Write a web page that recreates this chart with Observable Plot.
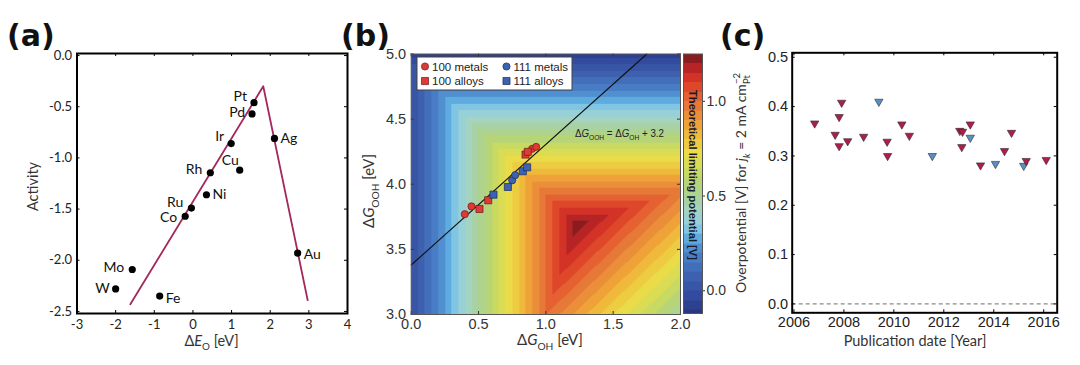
<!DOCTYPE html>
<html>
<head>
<meta charset="utf-8">
<script src="https://cdn.jsdelivr.net/npm/d3@7"></script>
<script src="https://cdn.jsdelivr.net/npm/@observablehq/plot@0.6"></script>
<style>
html, body { margin: 0; padding: 0; background: #fff; }
#root { position: relative; width: 1080px; height: 365px; overflow: hidden; }
#root > svg { position: absolute; }
</style>
</head>
<body>
<div id="root"></div>
<script>
// ---------------- Panel (a): volcano plot ----------------
const metals   = ["Pt", "Pd", "Ir", "Ag", "Cu", "Rh", "Ni", "Ru", "Co", "Mo", "W", "Fe", "Au"];
const deltaEO  = [1.58, 1.53, 0.99, 2.11, 1.21, 0.45, 0.35, -0.04, -0.20, -1.57, -2.00, -0.86, 2.71];
const activity = [-0.46, -0.57, -0.86, -0.81, -1.12, -1.145, -1.36, -1.49, -1.57, -2.09, -2.28, -2.35, -1.93];
const volcanoDeltaEO  = [-1.62, 1.82, 2.97];
const volcanoActivity = [-2.43, -0.30, -2.39];
const aXTicks = [-3, -2, -1, 0, 1, 2, 3, 4];
const aYTicks = [0, -0.5, -1.0, -1.5, -2.0, -2.5];

// ---------------- Panel (b): ORR activity map ----------------
const bSeriesNames = ["100 metals", "100 alloys", "111 metals", "111 alloys"];
const bSeries = ["100 metals", "100 metals", "100 metals", "100 metals",
                 "100 alloys", "100 alloys", "100 alloys", "100 alloys",
                 "111 metals", "111 metals",
                 "111 alloys", "111 alloys", "111 alloys", "111 alloys"];
const bGOH  = [0.398, 0.448, 0.898, 0.928, 0.507, 0.572, 0.849, 0.866, 0.750, 0.772, 0.611, 0.718, 0.829, 0.861];
const bGOOH = [3.770, 3.830, 4.272, 4.287, 3.810, 3.877, 4.228, 4.249, 4.030, 4.070, 3.920, 3.979, 4.100, 4.130];
const scalingLineGOH  = [0, 1.75];
const scalingLineGOOH = [3.38, 5.0];
const equilibriumPotential = 1.23;   // V, ORR
const bXTicks = [0, 0.5, 1.0, 1.5, 2.0];
const bYTicks = [3.0, 3.5, 4.0, 4.5, 5.0];
const colorbarTicks = [0, 0.5, 1.0];
const contourLevels = d3.range(-2, 25).map(i => +(i * 0.05).toFixed(2)); // -0.10 ... 1.20

// ---------------- Panel (c): overpotential vs date ----------------
const pubYear = [2006.83, 2007.65, 2007.81, 2007.91, 2007.81, 2008.15, 2008.79, 2009.40, 2009.73, 2009.75,
                 2010.32, 2010.62, 2011.54, 2012.64, 2012.75, 2012.72, 2013.06, 2013.06, 2013.47, 2014.07,
                 2014.43, 2014.71, 2015.20, 2015.30, 2016.10];
const overpotential = [0.366, 0.343, 0.379, 0.408, 0.320, 0.330, 0.339, 0.410, 0.329, 0.300,
                       0.364, 0.341, 0.300, 0.351, 0.349, 0.318, 0.364, 0.337, 0.281, 0.284,
                       0.310, 0.347, 0.280, 0.290, 0.292];
const cGroup = ["A", "A", "A", "A", "A", "A", "A", "B", "A", "A",
                "A", "A", "B", "A", "A", "A", "A", "B", "A", "B",
                "A", "A", "B", "A", "A"];
const cXTicks = [2006, 2008, 2010, 2012, 2014, 2016];
const cYTicks = [0, 0.1, 0.2, 0.3, 0.4, 0.5];

// ---------------- helpers ----------------
const root = document.getElementById("root");
function place(svg, left, top) {
  svg.style.left = left + "px";
  svg.style.top = top + "px";
  root.appendChild(svg);
  return svg;
}
function inwardTicks(xt, yt, xd, yd, pw, ph, len, stroke) {
  const lx = (xd[1] - xd[0]) * len / pw, ly = (yd[1] - yd[0]) * len / ph;
  return [
    Plot.ruleX(xt, {x: d => d, y1: yd[0], y2: yd[0] + ly, stroke}),
    Plot.ruleX(xt, {x: d => d, y1: yd[1] - ly, y2: yd[1], stroke}),
    Plot.ruleY(yt, {y: d => d, x1: xd[0], x2: xd[0] + lx, stroke}),
    Plot.ruleY(yt, {y: d => d, x1: xd[1] - lx, x2: xd[1], stroke})
  ];
}
function richText(svg, o, parts) {
  const size = o.size || 14;
  const t = d3.select(svg).append("text")
    .attr("transform", `translate(${o.x},${o.y}) rotate(${o.rotate || 0})`)
    .attr("text-anchor", o.anchor || "middle")
    .attr("font-family", o.family || "Lato")
    .attr("font-size", size)
    .attr("font-weight", o.weight || "normal")
    .attr("fill", o.fill || "#222");
  if (o.baseline) t.attr("dominant-baseline", o.baseline);
  if (o.textLength) t.attr("textLength", o.textLength).attr("lengthAdjust", "spacingAndGlyphs");
  let shift = 0, prev = null;
  for (const p of parts) {
    const ts = t.append("tspan").text(p.text);
    const target = p.sub ? size * 0.3 : p.sup ? -size * 0.42 : 0;
    if (p.sub || p.sup) ts.attr("font-size", size * 0.68);
    if (target !== shift) { ts.attr("dy", target - shift); shift = target; }
    if (p.italic) ts.attr("font-style", "italic");
    if (p.stack && prev) ts.attr("dx", -prev.node().getComputedTextLength());
    prev = ts;
  }
  return t;
}
const tag = (svg, x, y, s) => d3.select(svg).append("text").attr("x", x).attr("y", y)
  .attr("text-anchor", "start")
  .attr("font-family", "DejaVu Sans").attr("font-weight", "bold").attr("font-size", 30).attr("fill", "#111").text(s);

// ================= Panel (a) =================
const aData = metals.map((m, i) => ({m, x: deltaEO[i], y: activity[i]}));
const volcano = volcanoDeltaEO.map((x, i) => ({x, y: volcanoActivity[i]}));
const aLabelOffsets = {
  Pt: [-7, -6, "end"], Pd: [-7, -1, "end"], Ir: [-7, -7, "end"], Cu: [-1, -10, "end"],
  Rh: [-8, -3, "end"], Ru: [-8, -6, "end"], Co: [-8, 1, "end"], Mo: [-8, -2, "end"], W: [-6, 0, "end"],
  Ag: [6, 0, "start"], Ni: [6, 0, "start"], Fe: [6, 2, "start"], Au: [6, 1, "start"]
};
const aXd = [-3, 4], aYd = [-2.52, 0.02];
const plotA = Plot.plot({
  width: 360, height: 365,
  marginLeft: 76.5, marginRight: 13, marginTop: 53, marginBottom: 52,
  style: {fontFamily: "Lato", fontSize: "13px", color: "#222", background: "transparent", overflow: "visible"},
  x: {domain: aXd, ticks: aXTicks, tickFormat: d => String(d), tickSize: 0, tickPadding: 6, label: null},
  y: {domain: aYd, ticks: aYTicks, tickFormat: d => d.toFixed(1), tickSize: 0, tickPadding: 5, label: null},
  marks: [
    ...inwardTicks(aXTicks, aYTicks, aXd, aYd, 270.5, 260, 3, "#000"),
    Plot.line(volcano, {x: "x", y: "y", stroke: "#a3285c", strokeWidth: 1.8}),
    Plot.dot(aData, {x: "x", y: "y", r: 3.6, fill: "#000"}),
    ...aData.map(d => {
      const [dx, dy, anchor] = aLabelOffsets[d.m];
      return Plot.text([d], {x: "x", y: "y", text: "m", dx, dy, textAnchor: anchor, fontSize: 14, fill: "#111"});
    }),
    Plot.frame({stroke: "#000", strokeWidth: 2})
  ]
});
place(plotA, 0, 0);
richText(plotA, {x: 37.5, y: 186.5, rotate: -90, size: 14.5, fill: "#333"}, [{text: "Activity"}]);
richText(plotA, {x: 211.5, y: 346, size: 14.5, fill: "#333"},
  [{text: "Δ"}, {text: "E", italic: true}, {text: "O", sub: true}, {text: " [eV]"}]);
tag(plotA, 7, 45.5, "(a)");

// ================= Panel (b) =================
const bData = bGOH.map((x, i) => ({x, y: bGOOH[i], s: bSeries[i]}));
const scalingLine = scalingLineGOH.map((x, i) => ({x, y: scalingLineGOOH[i]}));
const limitingPotential = (gOH, gOOH) =>
  Math.min(gOH, 4 * equilibriumPotential - gOOH, (gOOH - gOH) / 2);
const jetStops = [-0.12, -0.05, 0.05, 0.15, 0.22, 0.28, 0.33, 0.40, 0.48, 0.56, 0.64, 0.72, 0.80, 0.88, 0.96, 1.04, 1.10, 1.16, 1.22];
const jetColors = ["#2a3780", "#30469a", "#3a5aaa", "#4474bf", "#4f8ccf", "#5eaee0", "#84c8e4", "#a2d4cf", "#a8d2a0",
                   "#b2d47c", "#cedb5c", "#eade4a", "#f0c43e", "#eea038", "#e8803a", "#e45a30", "#dc3a28", "#c62626", "#8a1c20"];
const jet = d3.scaleLinear().domain(jetStops).range(jetColors).interpolate(d3.interpolateRgb).clamp(true);
const bandMids = [contourLevels[0] - 0.025, ...contourLevels.map(l => l + 0.025)];
const colorSpec = {type: "threshold", domain: contourLevels, range: bandMids.map(jet)};

const bXd = [0, 2], bYd = [3, 5];
const bMarkStyle = {
  "100 metals": {symbol: "circle", fill: "#de3b36", stroke: "#6a1a1a", r: 3.6},
  "100 alloys": {symbol: "square", fill: "#de3b36", stroke: "#6a1a1a", r: 4.0},
  "111 metals": {symbol: "circle", fill: "#3c63b2", stroke: "#1b2a5a", r: 3.6},
  "111 alloys": {symbol: "square", fill: "#3c63b2", stroke: "#1b2a5a", r: 4.0}
};
const plotB = Plot.plot({
  width: 342, height: 365,
  marginLeft: 70.7, marginRight: 2, marginTop: 53.5, marginBottom: 51,
  style: {fontFamily: "Liberation Sans", fontSize: "14.5px", color: "#333", background: "transparent", overflow: "visible"},
  x: {domain: bXd, ticks: bXTicks, tickFormat: d => d.toFixed(1), tickSize: 0, tickPadding: 4, label: null},
  y: {domain: bYd, ticks: bYTicks, tickFormat: d => d.toFixed(1), tickSize: 0, tickPadding: 5, label: null},
  color: colorSpec,
  marks: [
    Plot.raster({fill: limitingPotential, x1: 0, x2: 2, y1: 3, y2: 5, pixelSize: 1}),
    Plot.line(scalingLine, {x: "x", y: "y", stroke: "#111", strokeWidth: 1.1}),
    ...bSeriesNames.map(s => Plot.dot(bData.filter(d => d.s === s), {
      x: "x", y: "y", symbol: bMarkStyle[s].symbol, r: bMarkStyle[s].r,
      fill: bMarkStyle[s].fill, stroke: bMarkStyle[s].stroke, strokeWidth: 0.7
    })),
    ...inwardTicks(bXTicks, bYTicks, bXd, bYd, 269.3, 260.5, 3, "#333"),
    Plot.frame({stroke: "#555", strokeWidth: 1})
  ]
});
place(plotB, 340, 0);
richText(plotB, {x: 34, y: 191, rotate: -90, size: 15, fill: "#333"},
  [{text: "Δ"}, {text: "G", italic: true}, {text: "OOH", sub: true}, {text: " [eV]"}]);
richText(plotB, {x: 210, y: 345, size: 15, fill: "#333"},
  [{text: "Δ"}, {text: "G", italic: true}, {text: "OH", sub: true}, {text: " [eV]"}]);
richText(plotB, {x: plotB.scale("x").apply(1.22), y: plotB.scale("y").apply(4.36), anchor: "start", size: 10.5, family: "Liberation Sans", fill: "#222", textLength: 89},
  [{text: "Δ"}, {text: "G", italic: true}, {text: "OOH", sub: true}, {text: " = Δ"}, {text: "G", italic: true}, {text: "OH", sub: true}, {text: " + 3.2"}]);
// legend box
{
  const g = d3.select(plotB).append("g").attr("font-family", "Liberation Sans").attr("font-size", 11.5)
    .attr("fill", "#222").attr("text-anchor", "start");
  g.append("rect").attr("x", 77).attr("y", 57).attr("width", 155).attr("height", 33)
    .attr("fill", "#fff").attr("stroke", "#444").attr("stroke-width", 1);
  const pos = [[85, 66.5], [85, 81], [166.5, 66.5], [166.5, 81]];
  bSeriesNames.forEach((s, i) => {
    const st = bMarkStyle[s];
    const sym = d3.symbol(st.symbol === "circle" ? d3.symbolCircle : d3.symbolSquare, Math.PI * st.r * st.r);
    g.append("path").attr("d", sym()).attr("transform", `translate(${pos[i][0]},${pos[i][1]})`)
      .attr("fill", st.fill).attr("stroke", st.stroke).attr("stroke-width", 0.7);
    g.append("text").attr("x", pos[i][0] + 7).attr("y", pos[i][1] + 4).attr("text-anchor", "start").text(s);
  });
}
tag(plotB, 1, 45.5, "(b)");

// colour bar
const cbYd = [-0.12, 1.25];
const plotCB = Plot.plot({
  width: 45, height: 365,
  marginLeft: 1, marginRight: 25, marginTop: 53.5, marginBottom: 52,
  style: {fontFamily: "Liberation Sans", fontSize: "14px", color: "#333", background: "transparent", overflow: "visible"},
  x: {domain: [0, 1], axis: null},
  y: {domain: cbYd, axis: "right", ticks: colorbarTicks, tickFormat: d => d.toFixed(1), tickSize: 2, tickPadding: 2, label: null},
  color: colorSpec,
  marks: [
    Plot.raster({fill: (x, y) => y, x1: 0, x2: 1, y1: cbYd[0], y2: cbYd[1], pixelSize: 1}),
    Plot.frame({stroke: "#555", strokeWidth: 1})
  ]
});
place(plotCB, 682, 0);
richText(plotCB, {x: 10.5, y: 175, rotate: 90, size: 10, family: "Liberation Sans", weight: "bold", fill: "#1a1a2a", textLength: 170, baseline: "central"},
  [{text: "Theoretical limiting potential [V]"}]);

// ================= Panel (c) =================
const cData = pubYear.map((x, i) => ({x, y: overpotential[i], g: cGroup[i]}));
const cXd = [2005.93, 2016.54], cYd = [-0.018, 0.509];
const cGroupFill = {A: "#b01d4b", B: "#5b8fc4"};
const plotC = Plot.plot({
  width: 365, height: 365,
  marginLeft: 76.7, marginRight: 23.3, marginTop: 52.3, marginBottom: 52.7,
  style: {fontFamily: "Liberation Sans", fontSize: "14.5px", color: "#222", background: "transparent", overflow: "visible"},
  x: {domain: cXd, ticks: cXTicks, tickFormat: d => String(d), tickSize: 0, tickPadding: 4, label: null},
  y: {domain: cYd, ticks: cYTicks, tickFormat: d => d.toFixed(1), tickSize: 0, tickPadding: 4, label: null},
  marks: [
    Plot.ruleY([0], {stroke: "#8a8a8a", strokeWidth: 1.2, strokeDasharray: "4,3"}),
    ...inwardTicks(cXTicks, cYTicks, cXd, cYd, 265, 260, 3, "#000"),
    ...["B", "A"].map(g => Plot.dot(cData.filter(d => d.g === g), {
      x: "x", y: "y", symbol: "triangle", rotate: 180, r: 3.1,
      fill: cGroupFill[g], stroke: "#2a2a2a", strokeWidth: 0.6
    })),
    Plot.frame({stroke: "#000", strokeWidth: 2})
  ]
});
place(plotC, 715, 0);
richText(plotC, {x: 31, y: 183, rotate: -90, size: 14, fill: "#333"},
  [{text: "Overpotential [V] for "}, {text: "j", italic: true}, {text: "k", sub: true, italic: true},
   {text: " = 2 mA cm"}, {text: "−2", sup: true}, {text: "Pt", sub: true, stack: true}]);
richText(plotC, {x: 200, y: 346, size: 14.5, fill: "#333"}, [{text: "Publication date [Year]"}]);
tag(plotC, 5, 45.5, "(c)");
</script>
</body>
</html>
